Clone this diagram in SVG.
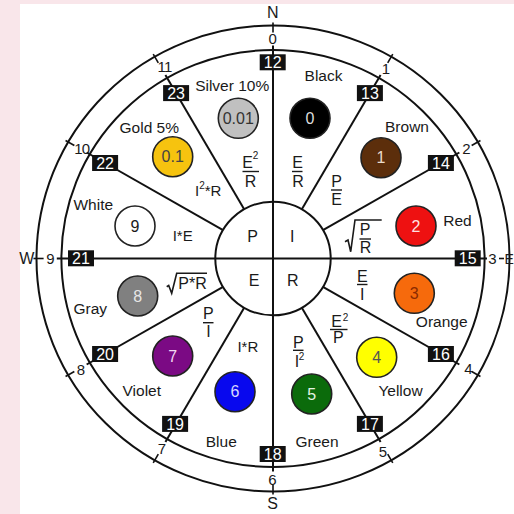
<svg xmlns="http://www.w3.org/2000/svg" width="514" height="514" viewBox="0 0 514 514">
<style>
text{font-family:"Liberation Sans",Arial,sans-serif;fill:#1a1a1a}
.lbl{font-size:15.5px;text-anchor:middle}
.num{font-size:15px;text-anchor:middle}
.card{font-size:16px;text-anchor:middle}
.f{font-size:16px;text-anchor:middle}
.sup{font-size:10px;text-anchor:middle}
.ring{fill:none;stroke:#111;stroke-width:2}
.sp{stroke:#111;stroke-width:2;fill:none}
.bar{stroke:#1a1a1a;stroke-width:1.4}
.rad{fill:none;stroke:#1a1a1a;stroke-width:1.6;stroke-linejoin:miter}
.box rect{fill:#111}
.box text{fill:#fff;font-size:16px;text-anchor:middle}
.dot{stroke:#222;stroke-width:1.6}
.dn{font-size:16px;text-anchor:middle}
</style>
<rect width="514" height="514" fill="#fff"/>
<rect x="0" y="0" width="20" height="514" fill="#f9e6ea"/>
<rect x="0" y="0" width="514" height="4" fill="#f9e6ea"/>

<g id="rings">
<ellipse class="ring" cx="273" cy="258.5" rx="236.5" ry="233"/>
<ellipse class="ring" cx="273" cy="258.5" rx="211.6" ry="208.5"/>
</g>

<g id="connectors">
<line class="sp" x1="273" y1="45.5" x2="273" y2="471.5"/>
<line class="sp" x1="56.8" y1="258.5" x2="487" y2="258.5"/>
<line class="sp" x1="301.83" y1="209.31" x2="380.59" y2="74.9"/>
<line class="sp" x1="322.93" y1="230.1" x2="459.35" y2="152.5"/>
<line class="sp" x1="322.93" y1="286.9" x2="459.35" y2="364.5"/>
<line class="sp" x1="301.83" y1="307.69" x2="380.59" y2="442.1"/>
<line class="sp" x1="244.17" y1="307.69" x2="165.41" y2="442.1"/>
<line class="sp" x1="223.07" y1="286.9" x2="86.65" y2="364.5"/>
<line class="sp" x1="223.07" y1="230.1" x2="86.65" y2="152.5"/>
<line class="sp" x1="244.17" y1="209.31" x2="165.41" y2="74.9"/>
<g stroke="#111" stroke-width="1.6">
<line x1="273" y1="32.5" x2="273" y2="22.5"/>
<line x1="387.7" y1="62.78" x2="392.77" y2="54.12"/>
<line x1="471.66" y1="145.5" x2="480.45" y2="140.5"/>
<line x1="499" y1="258.5" x2="504" y2="258.5"/>
<line x1="471.66" y1="371.5" x2="480.45" y2="376.5"/>
<line x1="387.7" y1="454.22" x2="392.77" y2="462.88"/>
<line x1="273" y1="484.5" x2="273" y2="494.5"/>
<line x1="158.3" y1="454.22" x2="153.23" y2="462.88"/>
<line x1="74.34" y1="371.5" x2="65.55" y2="376.5"/>
<line x1="43.61" y1="258.5" x2="33.46" y2="258.5"/>
<line x1="74.34" y1="145.5" x2="65.55" y2="140.5"/>
<line x1="158.3" y1="62.78" x2="153.23" y2="54.12"/>
</g>
</g>

<g id="center">
<ellipse class="ring" cx="273" cy="258.5" rx="57.7" ry="56.8"/>
<text class="f" x="252.7" y="241.7">P</text>
<text class="f" x="292.3" y="241.7">I</text>
<text class="f" x="254" y="286">E</text>
<text class="f" x="292.7" y="286">R</text>
</g>

<g id="compass">
<text class="card" x="272.7" y="18.3">N</text>
<text class="card" x="272.7" y="509.3">S</text>
<text class="card" x="26.7" y="264">W</text>
<text class="card" x="504.5" y="264" style="text-anchor:start;font-size:14px">E</text>
<text class="num" x="272.7" y="43.5">0</text>
<text class="num" x="386" y="73.5">1</text>
<text class="num" x="466.3" y="153.5">2</text>
<text class="num" x="492.5" y="264">3</text>
<text class="num" x="468.3" y="373.8">4</text>
<text class="num" x="382.8" y="457">5</text>
<text class="num" x="272.5" y="484.5">6</text>
<text class="num" x="162" y="454.3">7</text>
<text class="num" x="80.8" y="375.3">8</text>
<text class="num" x="50.3" y="264">9</text>
<text class="num" x="81.7" y="153.5" letter-spacing="-1">10</text>
<text class="num" x="164.5" y="72" letter-spacing="-0.8">11</text>
</g>

<g id="boxes">
<g class="box" id="b12"><rect x="259.7" y="54.3" width="26" height="16"/><text x="272.7" y="68">12</text></g>
<g class="box" id="b13"><rect x="356.9" y="85.1" width="26" height="16"/><text x="369.9" y="98.8">13</text></g>
<g class="box" id="b14"><rect x="427.9" y="155" width="26" height="16"/><text x="440.9" y="168.7">14</text></g>
<g class="box" id="b15"><rect x="454.7" y="250.3" width="26" height="16"/><text x="467.7" y="264">15</text></g>
<g class="box" id="b16"><rect x="427.9" y="346" width="26" height="16"/><text x="440.9" y="359.7">16</text></g>
<g class="box" id="b17"><rect x="356.9" y="415.9" width="26" height="16"/><text x="369.9" y="429.6">17</text></g>
<g class="box" id="b18"><rect x="259.7" y="446" width="26" height="16"/><text x="272.7" y="459.7">18</text></g>
<g class="box" id="b19"><rect x="162.1" y="415.9" width="26" height="16"/><text x="175.1" y="429.6">19</text></g>
<g class="box" id="b20"><rect x="92.1" y="346" width="26" height="16"/><text x="105.1" y="359.7">20</text></g>
<g class="box" id="b21"><rect x="68" y="250.3" width="26" height="16"/><text x="81" y="264">21</text></g>
<g class="box" id="b22"><rect x="92.1" y="155" width="26" height="16"/><text x="105.1" y="168.7">22</text></g>
<g class="box" id="b23"><rect x="163.1" y="85.1" width="26" height="16"/><text x="176.1" y="98.8">23</text></g>
</g>

<g id="black">
<text class="lbl" x="323.5" y="81">Black</text>
<circle class="dot" cx="310" cy="118.3" r="20" fill="#000"/>
<text class="dn" x="310" y="124" style="fill:#ddd">0</text>
<text class="f" x="297.5" y="168">E</text>
<line class="bar" x1="292" y1="171.5" x2="302.5" y2="171.5"/>
<text class="f" x="298" y="187">R</text>
</g>

<g id="brown">
<text class="lbl" x="407" y="131.7">Brown</text>
<circle class="dot" cx="381" cy="157.7" r="20" fill="#5c2e0b"/>
<text class="dn" x="381" y="163.4" style="fill:#eadccc">1</text>
<text class="f" x="336.5" y="186.7">P</text>
<line class="bar" x1="331" y1="190" x2="342" y2="190"/>
<text class="f" x="336.5" y="205">E</text>
</g>

<g id="red">
<text class="lbl" x="457.5" y="226">Red</text>
<circle class="dot" cx="416" cy="226" r="20" fill="#ee1111"/>
<text class="dn" x="416" y="231.7" style="fill:#ffe0e0">2</text>
<polyline class="rad" points="345,241.7 348,240 350.7,251.7 355,220 381.7,220"/>
<text class="f" x="365" y="235">P</text>
<line class="bar" x1="359.5" y1="239" x2="371" y2="239"/>
<text class="f" x="365.5" y="252.7">R</text>
</g>

<g id="orange">
<text class="lbl" x="441.7" y="327.3">Orange</text>
<circle class="dot" cx="414.3" cy="293.3" r="20" fill="#f66a0c"/>
<text class="dn" x="414.3" y="299" style="fill:#8a2a00">3</text>
<text class="f" x="362.3" y="281.7">E</text>
<line class="bar" x1="357" y1="284.5" x2="367.5" y2="284.5"/>
<text class="f" x="362.3" y="300">I</text>
</g>

<g id="yellow">
<text class="lbl" x="400.5" y="395.7">Yellow</text>
<circle class="dot" cx="376.7" cy="357.3" r="20" fill="#ffff00"/>
<text class="dn" x="376.7" y="363" style="fill:#555">4</text>
<text class="f" x="336.5" y="326.7">E</text>
<text class="sup" x="345.5" y="320.5">2</text>
<line class="bar" x1="330" y1="329.5" x2="347.5" y2="329.5"/>
<text class="f" x="338.3" y="343.3">P</text>
</g>

<g id="green">
<text class="lbl" x="317" y="446.7">Green</text>
<circle class="dot" cx="311.7" cy="394" r="20" fill="#0b6b0b"/>
<text class="dn" x="311.7" y="399.7" style="fill:#e4f4e4">5</text>
<text class="f" x="298.3" y="347.7">P</text>
<line class="bar" x1="293" y1="350.3" x2="303.5" y2="350.3"/>
<text class="f" x="297" y="366.7">I</text>
<text class="sup" x="301.5" y="360">2</text>
</g>

<g id="blue">
<text class="lbl" x="221.3" y="446.7">Blue</text>
<circle class="dot" cx="235" cy="391.7" r="20" fill="#0808ee"/>
<text class="dn" x="235" y="397.4" style="fill:#d8d8ff">6</text>
<text class="f" x="247.8" y="352.3" style="font-size:15px">I*R</text>
</g>

<g id="violet">
<text class="lbl" x="141.8" y="395.7">Violet</text>
<circle class="dot" cx="172.7" cy="356" r="20" fill="#7b0a84"/>
<text class="dn" x="172.7" y="361.7" style="fill:#f2d8f2">7</text>
<text class="f" x="208.3" y="319.3">P</text>
<line class="bar" x1="203" y1="322.7" x2="213.5" y2="322.7"/>
<text class="f" x="208.5" y="337.3">I</text>
</g>

<g id="gray">
<text class="lbl" x="90.3" y="314">Gray</text>
<circle class="dot" cx="137.7" cy="296" r="20" fill="#808080"/>
<text class="dn" x="137.7" y="301.7" style="fill:#e6e6e6">8</text>
<polyline class="rad" points="166.7,286.7 168.7,285.5 171.7,293.3 176.7,273.3 207,273.3"/>
<text class="f" x="178.3" y="289" style="text-anchor:start">P*R</text>
</g>

<g id="white">
<text class="lbl" x="93.3" y="210">White</text>
<circle class="dot" cx="135" cy="226" r="20" fill="#fff"/>
<text class="dn" x="135" y="231.7">9</text>
<text class="f" x="182.7" y="241" style="font-size:15px">I*E</text>
</g>

<g id="gold">
<text class="lbl" x="149.3" y="133.3">Gold 5%</text>
<circle class="dot" cx="172.7" cy="156.7" r="20" fill="#f6c30f"/>
<text class="dn" x="172.7" y="162.4" style="fill:#444">0.1</text>
<text class="f" x="195" y="196" style="text-anchor:start;font-size:15px">I<tspan dy="-7" font-size="10">2</tspan><tspan dy="7">*R</tspan></text>
</g>

<g id="silver">
<text class="lbl" x="232.2" y="90.7">Silver 10%</text>
<circle class="dot" cx="238.3" cy="118.3" r="20" fill="#c0c0c0"/>
<text class="dn" x="238.3" y="124" style="fill:#333">0.01</text>
<text class="f" x="247.5" y="168">E</text>
<text class="sup" x="255.5" y="158.5">2</text>
<line class="bar" x1="242.5" y1="171.5" x2="259" y2="171.5"/>
<text class="f" x="250.5" y="187">R</text>
</g>
</svg>
